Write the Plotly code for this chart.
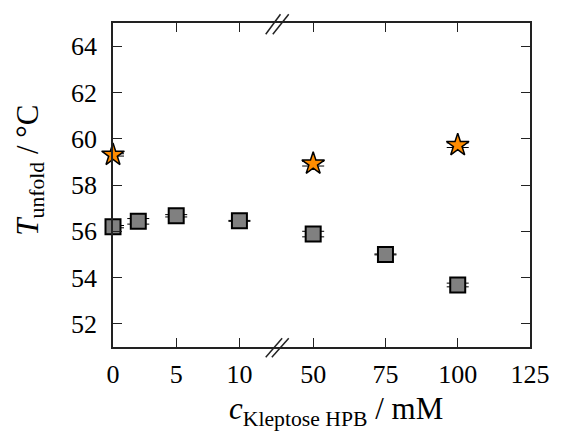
import plotly.graph_objects as go

# Unfolding temperature vs. Kleptose HPB concentration (broken x axis)
conc_sq = [0, 2, 5, 10, 50, 75, 100]
t_sq = [56.2, 56.43, 56.67, 56.45, 55.88, 55.0, 53.68]
err_sq = [0.05, 0.12, 0.05, 0.02, 0.12, 0.02, 0.08]

conc_star = [0, 50, 100]
t_star = [59.3, 58.92, 59.72]
err_star = [0.05, 0.1, 0.1]

x_ticks_low = [0, 5, 10]
x_ticks_high = [50, 75, 100, 125]
y_ticks = [52, 54, 56, 58, 60, 62, 64]

LOW_MAX = 12.93
HIGH_MIN = 37.3
SPLIT = 0.392

FONT = "Liberation Serif"
SQ_COLOR = "#808080"
STAR_COLOR = "#FF8C00"

ML, MR, MT, MB = 113, 24, 23, 85
W, H = 561, 432


def split(xs, ys, es, low):
    sel = [(x, y, e) for x, y, e in zip(xs, ys, es) if (x <= LOW_MAX) == low]
    return [s[0] for s in sel], [s[1] for s in sel], [s[2] for s in sel]


fig = go.Figure()

for low, xa, ya in [(True, "x", "y"), (False, "x2", "y2")]:
    xs, ys, es = split(conc_sq, t_sq, err_sq, low)
    fig.add_trace(go.Scatter(
        x=xs, y=ys, xaxis=xa, yaxis=ya, mode="markers",
        marker=dict(symbol="square", size=15, color=SQ_COLOR,
                    line=dict(color="black", width=2)),
        error_y=dict(type="data", array=es, visible=True, color="black",
                     thickness=1, width=11),
        cliponaxis=False, showlegend=False))
    xs, ys, es = split(conc_star, t_star, err_star, low)
    fig.add_trace(go.Scatter(
        x=xs, y=ys, xaxis=xa, yaxis=ya, mode="markers",
        marker=dict(symbol="star", size=17, color=STAR_COLOR,
                    line=dict(color="black", width=1.5)),
        error_y=dict(type="data", array=es, visible=True, color="black",
                     thickness=1, width=11),
        cliponaxis=False, showlegend=False))

tick_font = dict(family=FONT, size=26, color="black")
axis_common = dict(
    showline=True, linecolor="#222", linewidth=1.5,
    ticks="inside", ticklen=9, tickwidth=1.2, tickcolor="#222",
    showgrid=False, zeroline=False,
    tickfont=tick_font,
)

fig.update_layout(
    width=W, height=H,
    margin=dict(l=ML, r=MR, t=MT, b=MB),
    paper_bgcolor="white", plot_bgcolor="white",
    xaxis=dict(domain=[0, SPLIT], range=[0, LOW_MAX], tickvals=x_ticks_low,
               mirror="ticks", anchor="y", ticklabelstandoff=3, **axis_common),
    xaxis2=dict(domain=[SPLIT, 1], range=[HIGH_MIN, 125], tickvals=x_ticks_high,
                mirror="ticks", anchor="y2", ticklabelstandoff=3, **axis_common),
    yaxis=dict(range=[51, 65], tickvals=y_ticks, anchor="x", side="left",
               ticklabelstandoff=9, **axis_common),
    yaxis2=dict(range=[51, 65], tickvals=y_ticks, anchor="x2", side="right",
                matches="y", showticklabels=False, **axis_common),
)


def px_to_paper_x(px):
    return (px - ML) / (W - ML - MR)


def px_to_paper_y(py):
    return (H - MB - py) / (H - MT - MB)


# Axis-break marks on the top and bottom frame lines
for (xa, ya, xb, yb) in [(268.3, 34.3, 283.3, 14.3), (275.5, 34.3, 291.7, 14.3),
                         (268.3, 357.3, 285.0, 338.3), (274.5, 357.3, 291.7, 338.3)]:
    fig.add_shape(type="line", xref="paper", yref="paper",
                  x0=px_to_paper_x(xa), y0=px_to_paper_y(ya),
                  x1=px_to_paper_x(xb), y1=px_to_paper_y(yb),
                  line=dict(color="#222", width=1.5))

fig.add_annotation(
    xref="paper", yref="paper", x=0.535, y=-0.196,
    text="<i>c</i><sub>Kleptose HPB</sub> / mM", showarrow=False,
    font=dict(family=FONT, size=31, color="black"),
    xanchor="center", yanchor="middle")

fig.add_annotation(
    xref="paper", yref="paper", x=-0.2, y=0.546,
    text="<i>T</i><sub>unfold</sub> / °C", showarrow=False, textangle=-90,
    font=dict(family=FONT, size=31, color="black"),
    xanchor="center", yanchor="middle")

fig.write_html("out.html")
